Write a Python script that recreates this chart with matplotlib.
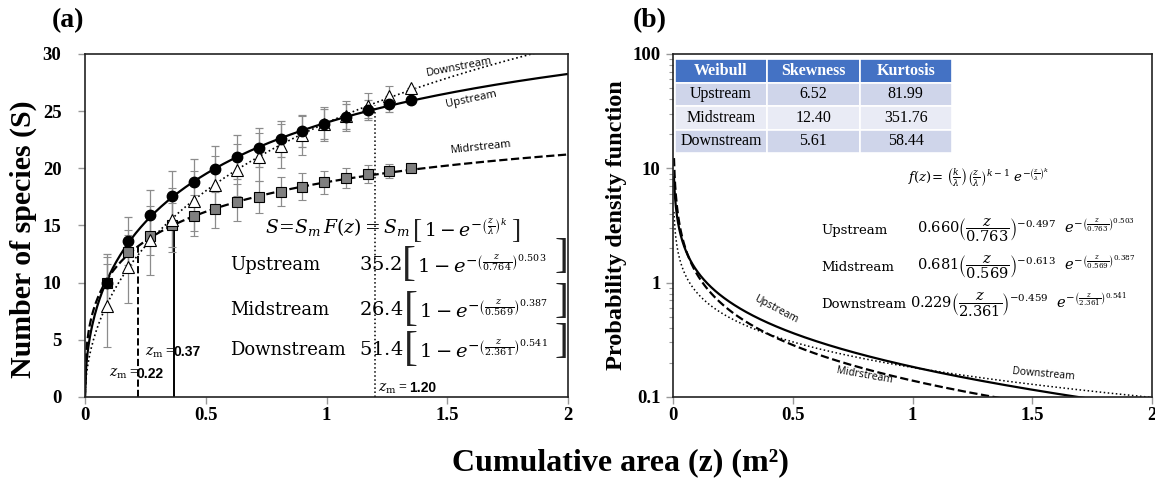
import numpy as np
import matplotlib
matplotlib.use("Agg")
import matplotlib.pyplot as plt
from matplotlib.ticker import FixedLocator, LogLocator, NullFormatter

plt.rcParams['mathtext.fontset'] = 'dejavuserif'

# sampling areas (m2)
z_pts = [0.09, 0.18, 0.27, 0.36, 0.45, 0.54, 0.63, 0.72, 0.81, 0.90, 0.99, 1.08, 1.17, 1.26, 1.35]

up_S = [10.0, 13.65, 15.9, 17.6, 18.8, 19.95, 20.97, 21.8, 22.57, 23.3, 23.9, 24.5, 25.1, 25.6, 26.0]
up_err = [2.5, 2.1, 2.2, 2.2, 2.0, 2.0, 1.9, 1.7, 1.6, 1.4, 1.3, 1.1, 0.9, 0.7, 0.0]

mid_S = [10.0, 12.66, 14.1, 15.05, 15.86, 16.45, 17.03, 17.5, 17.96, 18.4, 18.78, 19.16, 19.48, 19.77, 20.06]
mid_err = [2.2, 1.5, 1.7, 1.9, 1.8, 1.7, 1.6, 1.4, 1.3, 1.2, 1.0, 0.9, 0.8, 0.6, 0.0]

down_S = [8.0, 11.4, 13.7, 15.5, 17.15, 18.55, 19.86, 20.97, 21.96, 22.9, 23.85, 24.6, 25.46, 26.3, 27.06]
down_err = [3.6, 3.2, 3.0, 2.8, 2.6, 2.5, 2.3, 2.1, 1.9, 1.7, 1.5, 1.3, 1.1, 0.9, 0.0]

# fitted Weibull parameters (Sm, lambda, k) as printed on the figure
names = ['Upstream', 'Midstream', 'Downstream']
Sm = [35.2, 26.4, 51.4]
lam_S = [0.764, 0.569, 2.361]
lam_f = [0.763, 0.569, 2.361]
kk = [0.503, 0.387, 0.541]
coef = [0.660, 0.681, 0.229]
expo = [-0.497, -0.613, -0.459]

# z_m markers
zm_x = [0.22, 0.37, 1.20]
zm_top = [13.2, 15.1, 25.5]
zm_ls = ['--', '-', ':']
zm_lbl = ['0.22', '0.37', '1.20']

# table
tab_cols = ['Weibull', 'Skewness', 'Kurtosis']
tab_rows = [['Upstream', '6.52', '81.99'],
            ['Midstream', '12.40', '351.76'],
            ['Downstream', '5.61', '58.44']]

serif = 'Liberation Serif'
line_ls = ['-', '--', ':']

fig = plt.figure(figsize=(11.55, 4.84), dpi=100)
axa = fig.add_axes([0.0736, 0.1798, 0.4182, 0.7087])
axb = fig.add_axes([0.5827, 0.1798, 0.4147, 0.7087])

# ---- panel (a)
zz = np.linspace(0, 2, 400)
for i in range(3):
    S = Sm[i] * (1 - np.exp(-(zz / lam_S[i]) ** kk[i]))
    axa.plot(zz, S, color='black', ls=line_ls[i], lw=1.6 if i < 2 else 1.2, zorder=2)

ebkw = dict(ecolor='#8c8c8c', elinewidth=0.9, capsize=3, capthick=0.9, ls='none', zorder=3)
axa.errorbar(z_pts, mid_S, yerr=mid_err, fmt='s', ms=7, mfc='#7f7f7f', mec='black', mew=0.8, **ebkw)
axa.errorbar(z_pts, down_S, yerr=down_err, fmt='^', ms=8, mfc='white', mec='black', mew=0.8, **ebkw)
axa.errorbar(z_pts, up_S, yerr=up_err, fmt='o', ms=7.5, mfc='black', mec='black', **ebkw)

for x, top, ls in zip(zm_x, zm_top, zm_ls):
    axa.plot([x, x], [0, top], color='black', ls=ls, lw=1.4 if ls != ':' else 1.1, zorder=1)

axa.text(0.25, 3.9, r'$z_\mathrm{m}$ = ', fontsize=10, va='center', family=serif)
axa.text(0.365, 3.9, zm_lbl[1], fontsize=10, va='center', fontweight='bold', family='Liberation Sans')
axa.text(0.10, 2.0, r'$z_\mathrm{m}$ = ', fontsize=10, va='center', family=serif)
axa.text(0.215, 2.0, zm_lbl[0], fontsize=10, va='center', fontweight='bold', family='Liberation Sans')
axa.text(1.215, 0.75, r'$z_\mathrm{m}$ = ', fontsize=10, va='center', family=serif)
axa.text(1.34, 0.75, zm_lbl[2], fontsize=10, va='center', fontweight='bold', family='Liberation Sans')


def chain(ax, prev, s, xy, dx, dy, fs, ha='left', **kw):
    # put a text right next to another text, in points
    return ax.annotate(s, xy=xy, xycoords=prev, xytext=(dx, dy), textcoords='offset points',
                       ha=ha, va='baseline', fontsize=fs, **kw)


# general form, tall brackets drawn as separate glyphs
t0 = axa.text(0.745, 14.35, r'$S\!=\!S_m\,F(z) = S_m$', fontsize=13.5, va='baseline')
t1 = chain(axa, t0, r'$1 - e^{-\left(\frac{z}{\lambda}\right)^k}$', (1, 0), 10, 0, 13.5)
chain(axa, t1, '[', (0, 0), -1.5, 2.5, 20, ha='right', family=serif, color='#222222')
chain(axa, t1, ']', (1, 0), 2.5, 2.5, 20, family=serif, color='#222222')

row_y = [11.1, 7.17, 3.67]
for i in range(3):
    axa.text(0.60, row_y[i], names[i], fontsize=13, va='baseline', family='DejaVu Serif')
    n = axa.text(1.135, row_y[i], r'$%.1f$' % Sm[i], fontsize=14, va='baseline')
    c = chain(axa, n, r'$1 - e^{-\left(\frac{z}{%.3f}\right)^{%.3f}}$' % (lam_S[i], kk[i]),
              (1, 0), 11, 0, 14)
    chain(axa, c, '[', (0, 0), -1, 2, 30, ha='right', family=serif, color='#222222')
    axa.text(1.945, row_y[i] + 0.24, ']', fontsize=30, va='baseline', family=serif, color='#222222')

axa.text(1.55, 28.85, 'Downstream', fontsize=8, rotation=11, ha='center', va='center', family='Open Sans')
axa.text(1.60, 26.0, 'Upstream', fontsize=8, rotation=12, ha='center', va='center', family='Open Sans')
axa.text(1.64, 21.8, 'Midrstream', fontsize=8, rotation=6, ha='center', va='center', family='Open Sans')

axa.set_xlim(0, 2)
axa.set_ylim(0, 30)
axa.xaxis.set_major_locator(FixedLocator([0, 0.5, 1, 1.5, 2]))
axa.set_xticklabels(['0', '0.5', '1', '1.5', '2'])
axa.yaxis.set_major_locator(FixedLocator(range(0, 31, 5)))
axa.set_ylabel('Number of species (S)', fontsize=21.5, fontweight='bold', family=serif)
axa.yaxis.set_label_coords(-0.10, 0.46)

# ---- panel (b)
zf = np.linspace(0.004, 2, 800)
for i in range(3):
    f = coef[i] * (zf / lam_f[i]) ** expo[i] * np.exp(-(zf / lam_f[i]) ** kk[i])
    axb.plot(zf, f, color='black', ls=line_ls[i], lw=1.6 if i < 2 else 1.1)

axb.set_xlim(0, 2)
axb.set_yscale('log')
axb.set_ylim(0.1, 100)
axb.xaxis.set_major_locator(FixedLocator([0, 0.5, 1, 1.5, 2]))
axb.set_xticklabels(['0', '0.5', '1', '1.5', '2'])
axb.yaxis.set_major_locator(FixedLocator([0.1, 1, 10, 100]))
axb.set_yticklabels(['0.1', '1', '10', '100'])
axb.yaxis.set_minor_locator(LogLocator(base=10, subs=np.arange(2, 10)))
axb.yaxis.set_minor_formatter(NullFormatter())
axb.set_ylabel('Probability density function', fontsize=17.5, fontweight='bold', family=serif, labelpad=4)

axb.text(0.43, 0.58, 'Upstream', fontsize=7.5, rotation=-28, ha='center', va='center', family='Open Sans')
axb.text(0.80, 0.155, 'Midrstream', fontsize=7.5, rotation=-10, ha='center', va='center', family='Open Sans')
axb.text(1.545, 0.158, 'Downstream', fontsize=7.5, rotation=-5, ha='center', va='center', family='Open Sans')

axb.text(0.49, 0.64, r'$f(z)$= $\left(\frac{k}{\lambda}\right)\left(\frac{z}{\lambda}\right)^{k-1}\ e^{-\left(\frac{z}{\lambda}\right)^k}$',
         transform=axb.transAxes, fontsize=9.5, va='center', ha='left')
rowb = [0.485, 0.378, 0.27]
for i in range(3):
    axb.text(0.31, rowb[i], names[i], transform=axb.transAxes, fontsize=9.5, va='center', family='DejaVu Serif')
    axb.text(0.51 if i < 2 else 0.495, rowb[i],
             r'$%.3f\left(\dfrac{z}{%.3f}\right)^{%.3f}\ \ e^{-\left(\frac{z}{%.3f}\right)^{%.3f}}$'
             % (coef[i], lam_f[i], expo[i], lam_f[i], kk[i]),
             transform=axb.transAxes, fontsize=10.5, va='center')

tbl = axb.table(cellText=tab_rows, colLabels=tab_cols, cellLoc='center',
                bbox=[0.004, 0.711, 0.578, 0.274])
tbl.auto_set_font_size(False)
row_cols = ['#cfd5ea', '#e9ebf5', '#cfd5ea']
for (r, c), cell in tbl.get_celld().items():
    cell.set_edgecolor('white')
    cell.set_linewidth(1.2)
    if r == 0:
        cell.set_facecolor('#4472c4')
        cell.get_text().set_color('white')
        cell.get_text().set_fontweight('bold')
    else:
        cell.set_facecolor(row_cols[r - 1])
    cell.get_text().set_fontsize(11.5)
    cell.get_text().set_family(serif)

for ax in (axa, axb):
    for s in ax.spines.values():
        s.set_linewidth(1.2)
        s.set_color('#222222')
    ax.tick_params(which='both', direction='out', color='#999999')
    ax.tick_params(which='major', length=5, width=1)
    ax.tick_params(which='minor', length=3, width=0.8)
    ax.tick_params(axis='x', pad=2)
    for lb in ax.get_xticklabels() + ax.get_yticklabels():
        lb.set_family(serif)
        lb.set_fontweight('bold')
        lb.set_fontsize(13.5)
axa.tick_params(axis='y', pad=12)
axb.tick_params(axis='y', pad=4)

fig.text(0.045, 0.957, '(a)', fontsize=20, fontweight='bold', family=serif, va='center')
fig.text(0.548, 0.957, '(b)', fontsize=20, fontweight='bold', family=serif, va='center')
fig.text(0.537, 0.043, 'Cumulative area (z) (m²)', fontsize=23, fontweight='bold',
         family=serif, ha='center', va='center')

fig.savefig('out.png', dpi=100)
